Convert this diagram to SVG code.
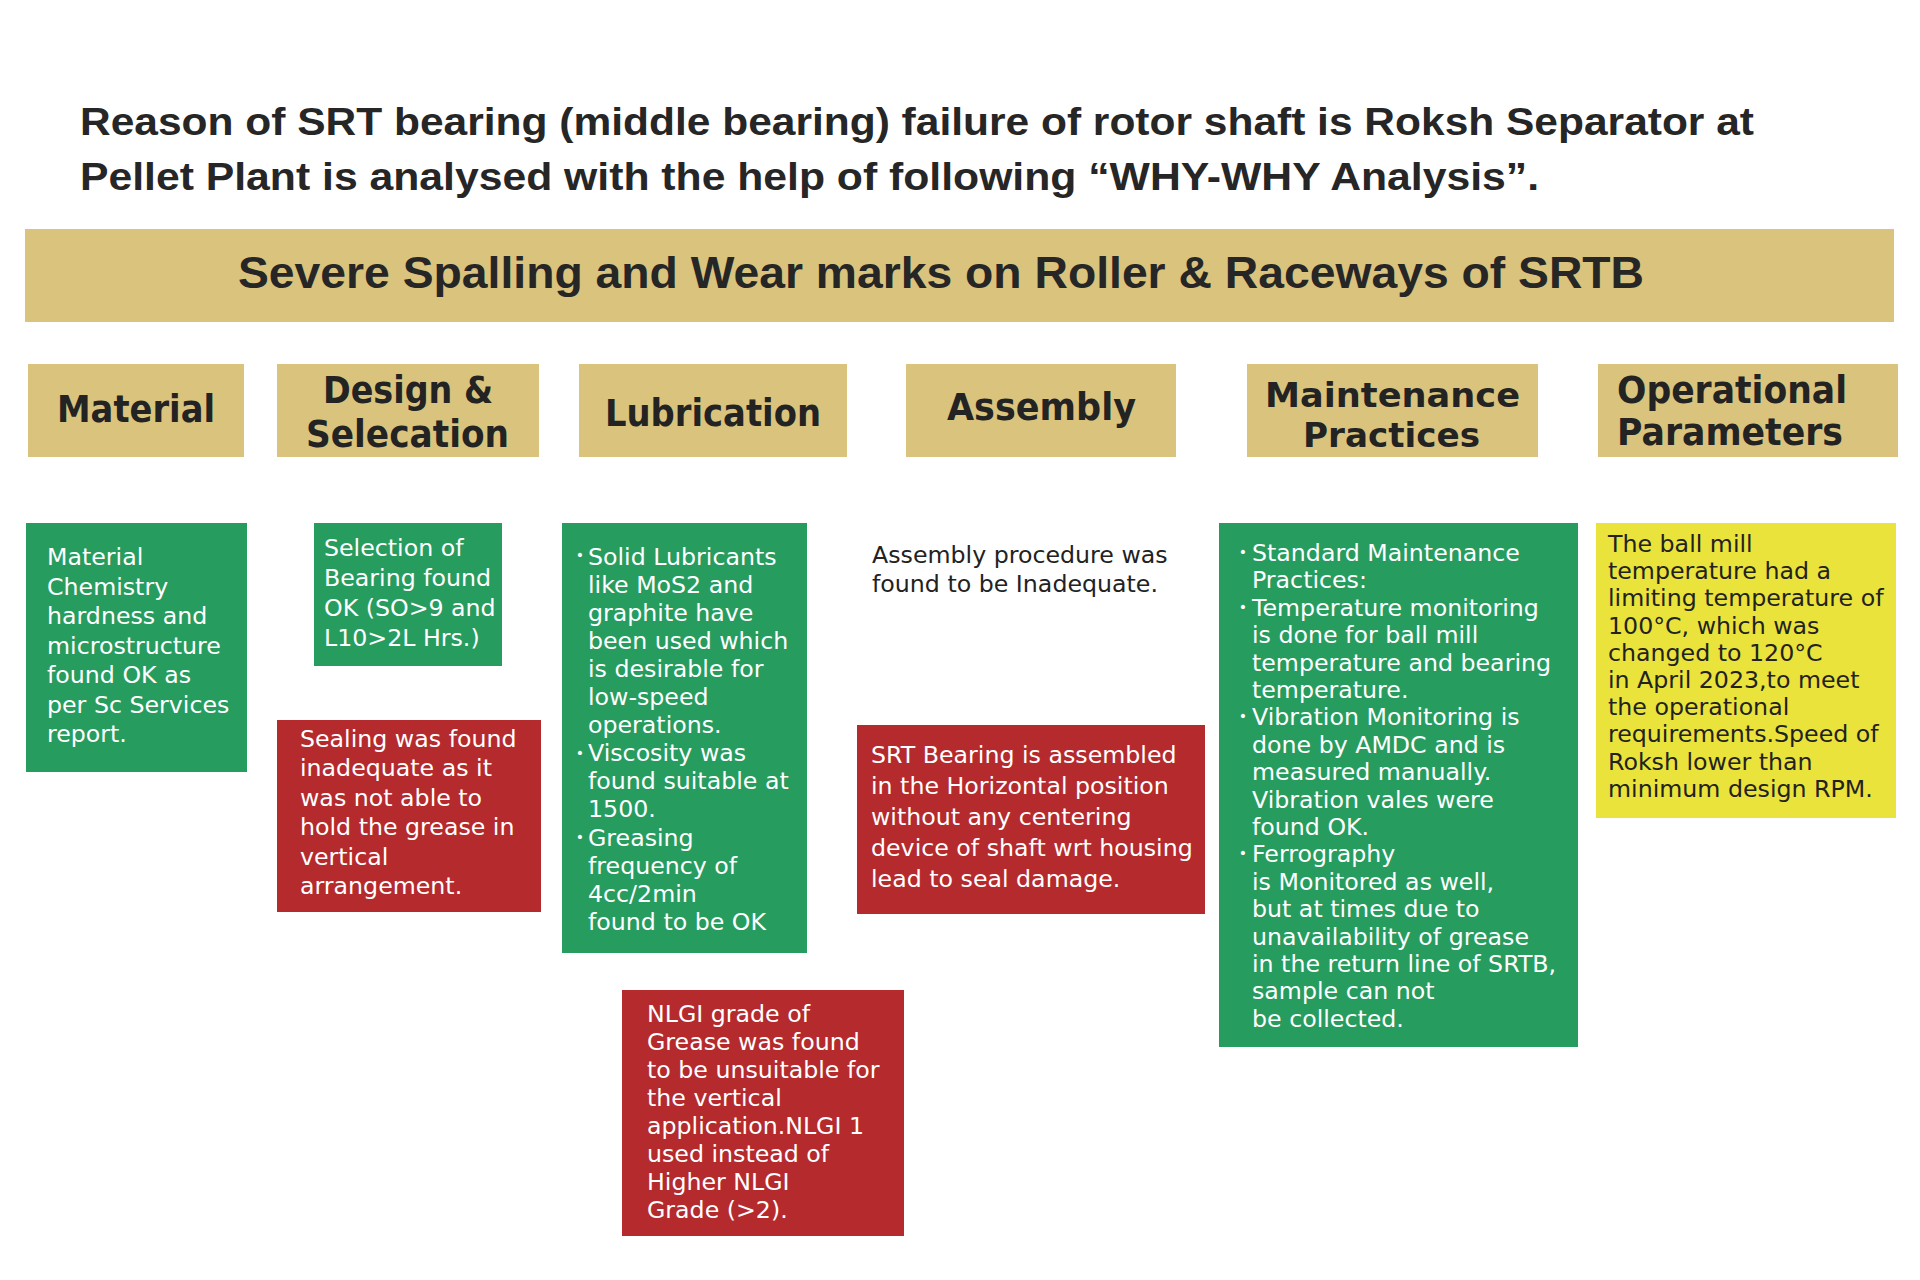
<svg xmlns="http://www.w3.org/2000/svg" width="1920" height="1280" viewBox="0 0 1920 1280">
<style>
  .title { font-family: "Liberation Sans", Arial, sans-serif; font-weight: 700; font-size: 38px; fill: #262626; }
  .banner { fill: #D9C37D; }
  .bannertxt { font-family: "Liberation Sans", Arial, sans-serif; font-weight: 700; font-size: 44px; fill: #262626; }
  .hdr { fill: #D9C37D; }
  .hdrtxt { font-family: "DejaVu Sans", sans-serif; font-weight: 700; font-size: 37px; fill: #232323; }
  .hdrsm { font-size: 34px; }
  .green { fill: #279C5F; }
  .red { fill: #B52A2D; }
  .yellow { fill: #EAE33B; }
  .body { font-family: "DejaVu Sans", sans-serif; font-size: 23.7px; }
  .w { fill: #FFFFFF; }
  .d { fill: #222222; }
  .bul { font-family: "DejaVu Sans", sans-serif; font-size: 14px; }
</style>
<rect width="1920" height="1280" fill="#FFFFFF"/>

<g id="title">
  <text class="title" x="80" y="135" textLength="1674" lengthAdjust="spacingAndGlyphs">Reason of SRT bearing (middle bearing) failure of rotor shaft is Roksh Separator at</text>
  <text class="title" x="80" y="190" textLength="1459" lengthAdjust="spacingAndGlyphs">Pellet Plant is analysed with the help of following “WHY-WHY Analysis”.</text>
</g>

<g id="problem">
  <rect class="banner" x="25" y="229" width="1869" height="93"/>
  <text class="bannertxt" x="238" y="288" textLength="1406" lengthAdjust="spacingAndGlyphs">Severe Spalling and Wear marks on Roller &amp; Raceways of SRTB</text>
</g>

<g id="hdr-material">
  <rect class="hdr" x="28" y="364" width="216" height="93"/>
  <text class="hdrtxt" x="57" y="422" textLength="158" lengthAdjust="spacingAndGlyphs">Material</text>
</g>
<g id="hdr-design">
  <rect class="hdr" x="277" y="364" width="262" height="93"/>
  <text class="hdrtxt" x="323" y="403" textLength="170" lengthAdjust="spacingAndGlyphs">Design &amp;</text>
  <text class="hdrtxt" x="306" y="447" textLength="203" lengthAdjust="spacingAndGlyphs">Selecation</text>
</g>
<g id="hdr-lubrication">
  <rect class="hdr" x="579" y="364" width="268" height="93"/>
  <text class="hdrtxt" x="605" y="426" textLength="216" lengthAdjust="spacingAndGlyphs">Lubrication</text>
</g>
<g id="hdr-assembly">
  <rect class="hdr" x="906" y="364" width="270" height="93"/>
  <text class="hdrtxt" x="947" y="420" textLength="189" lengthAdjust="spacingAndGlyphs">Assembly</text>
</g>
<g id="hdr-maintenance">
  <rect class="hdr" x="1247" y="364" width="291" height="93"/>
  <text class="hdrtxt hdrsm" x="1265" y="407" textLength="255" lengthAdjust="spacingAndGlyphs">Maintenance</text>
  <text class="hdrtxt hdrsm" x="1303" y="447" textLength="177" lengthAdjust="spacingAndGlyphs">Practices</text>
</g>
<g id="hdr-operational">
  <rect class="hdr" x="1598" y="364" width="300" height="93"/>
  <text class="hdrtxt" x="1617" y="403" textLength="230" lengthAdjust="spacingAndGlyphs">Operational</text>
  <text class="hdrtxt" x="1617" y="445" textLength="226" lengthAdjust="spacingAndGlyphs">Parameters</text>
</g>

<g id="material-ok">
  <rect class="green" x="26" y="523" width="221" height="249"/>
  <text class="body w" x="47" y="565">
    <tspan x="47" dy="0">Material</tspan>
    <tspan x="47" dy="29.5">Chemistry</tspan>
    <tspan x="47" dy="29.5">hardness and</tspan>
    <tspan x="47" dy="29.5">microstructure</tspan>
    <tspan x="47" dy="29.5">found OK as</tspan>
    <tspan x="47" dy="29.5">per Sc Services</tspan>
    <tspan x="47" dy="29.5">report.</tspan>
  </text>
</g>

<g id="selection-ok">
  <rect class="green" x="314" y="523" width="188" height="143"/>
  <text class="body w" x="324" y="556">
    <tspan x="324" dy="0">Selection of</tspan>
    <tspan x="324" dy="30">Bearing found</tspan>
    <tspan x="324" dy="30">OK (SO&gt;9 and</tspan>
    <tspan x="324" dy="30">L10&gt;2L Hrs.)</tspan>
  </text>
</g>

<g id="sealing-bad">
  <rect class="red" x="277" y="720" width="264" height="192"/>
  <text class="body w" x="300" y="747">
    <tspan x="300" dy="0">Sealing was found</tspan>
    <tspan x="300" dy="29.4">inadequate as it</tspan>
    <tspan x="300" dy="29.4">was not able to</tspan>
    <tspan x="300" dy="29.4">hold the grease in</tspan>
    <tspan x="300" dy="29.4">vertical</tspan>
    <tspan x="300" dy="29.4">arrangement.</tspan>
  </text>
</g>

<g id="lubrication-ok">
  <rect class="green" x="562" y="523" width="245" height="430"/>
  <text class="bul w" x="580" y="560" text-anchor="middle">•</text>
  <text class="bul w" x="580" y="757.5" text-anchor="middle">•</text>
  <text class="bul w" x="580" y="841.5" text-anchor="middle">•</text>
  <text class="body w" x="588" y="564.5">
    <tspan x="588" dy="0">Solid Lubricants</tspan>
    <tspan x="588" dy="28.1">like MoS2 and</tspan>
    <tspan x="588" dy="28.1">graphite have</tspan>
    <tspan x="588" dy="28.1">been used which</tspan>
    <tspan x="588" dy="28.1">is desirable for</tspan>
    <tspan x="588" dy="28.1">low-speed</tspan>
    <tspan x="588" dy="28.1">operations.</tspan>
    <tspan x="588" dy="28.1">Viscosity was</tspan>
    <tspan x="588" dy="28.1">found suitable at</tspan>
    <tspan x="588" dy="28.1">1500.</tspan>
    <tspan x="588" dy="28.1">Greasing</tspan>
    <tspan x="588" dy="28.1">frequency of</tspan>
    <tspan x="588" dy="28.1">4cc/2min</tspan>
    <tspan x="588" dy="28.1">found to be OK</tspan>
  </text>
</g>

<g id="nlgi-bad">
  <rect class="red" x="622" y="990" width="282" height="246"/>
  <text class="body w" x="647" y="1022">
    <tspan x="647" dy="0">NLGI grade of</tspan>
    <tspan x="647" dy="28">Grease was found</tspan>
    <tspan x="647" dy="28">to be unsuitable for</tspan>
    <tspan x="647" dy="28">the vertical</tspan>
    <tspan x="647" dy="28">application.NLGI 1</tspan>
    <tspan x="647" dy="28">used instead of</tspan>
    <tspan x="647" dy="28">Higher NLGI</tspan>
    <tspan x="647" dy="28">Grade (&gt;2).</tspan>
  </text>
</g>

<g id="assembly-note">
  <text class="body d" x="872" y="563">
    <tspan x="872" dy="0">Assembly procedure was</tspan>
    <tspan x="872" dy="29">found to be Inadequate.</tspan>
  </text>
</g>

<g id="srt-bad">
  <rect class="red" x="857" y="725" width="348" height="189"/>
  <text class="body w" x="871" y="763">
    <tspan x="871" dy="0">SRT Bearing is assembled</tspan>
    <tspan x="871" dy="31">in the Horizontal position</tspan>
    <tspan x="871" dy="31">without any centering</tspan>
    <tspan x="871" dy="31">device of shaft wrt housing</tspan>
    <tspan x="871" dy="31">lead to seal damage.</tspan>
  </text>
</g>

<g id="maintenance-ok">
  <rect class="green" x="1219" y="523" width="359" height="524"/>
  <text class="bul w" x="1243" y="556.5" text-anchor="middle">•</text>
  <text class="bul w" x="1243" y="611.5" text-anchor="middle">•</text>
  <text class="bul w" x="1243" y="721" text-anchor="middle">•</text>
  <text class="bul w" x="1243" y="858" text-anchor="middle">•</text>
  <text class="body w" x="1252" y="561">
    <tspan x="1252" dy="0">Standard Maintenance</tspan>
    <tspan x="1252" dy="27.4">Practices:</tspan>
    <tspan x="1252" dy="27.4">Temperature monitoring</tspan>
    <tspan x="1252" dy="27.4">is done for ball mill</tspan>
    <tspan x="1252" dy="27.4">temperature and bearing</tspan>
    <tspan x="1252" dy="27.4">temperature.</tspan>
    <tspan x="1252" dy="27.4">Vibration Monitoring is</tspan>
    <tspan x="1252" dy="27.4">done by AMDC and is</tspan>
    <tspan x="1252" dy="27.4">measured manually.</tspan>
    <tspan x="1252" dy="27.4">Vibration vales were</tspan>
    <tspan x="1252" dy="27.4">found OK.</tspan>
    <tspan x="1252" dy="27.4">Ferrography</tspan>
    <tspan x="1252" dy="27.4">is Monitored as well,</tspan>
    <tspan x="1252" dy="27.4">but at times due to</tspan>
    <tspan x="1252" dy="27.4">unavailability of grease</tspan>
    <tspan x="1252" dy="27.4">in the return line of SRTB,</tspan>
    <tspan x="1252" dy="27.4">sample can not</tspan>
    <tspan x="1252" dy="27.4">be collected.</tspan>
  </text>
</g>

<g id="operational-warn">
  <rect class="yellow" x="1596" y="523" width="300" height="295"/>
  <text class="body d" x="1608" y="552">
    <tspan x="1608" dy="0">The ball mill</tspan>
    <tspan x="1608" dy="27.2">temperature had a</tspan>
    <tspan x="1608" dy="27.2">limiting temperature of</tspan>
    <tspan x="1608" dy="27.2">100°C, which was</tspan>
    <tspan x="1608" dy="27.2">changed to 120°C</tspan>
    <tspan x="1608" dy="27.2">in April 2023,to meet</tspan>
    <tspan x="1608" dy="27.2">the operational</tspan>
    <tspan x="1608" dy="27.2">requirements.Speed of</tspan>
    <tspan x="1608" dy="27.2">Roksh lower than</tspan>
    <tspan x="1608" dy="27.2">minimum design RPM.</tspan>
  </text>
</g>

<g id="connectors"></g>
</svg>
